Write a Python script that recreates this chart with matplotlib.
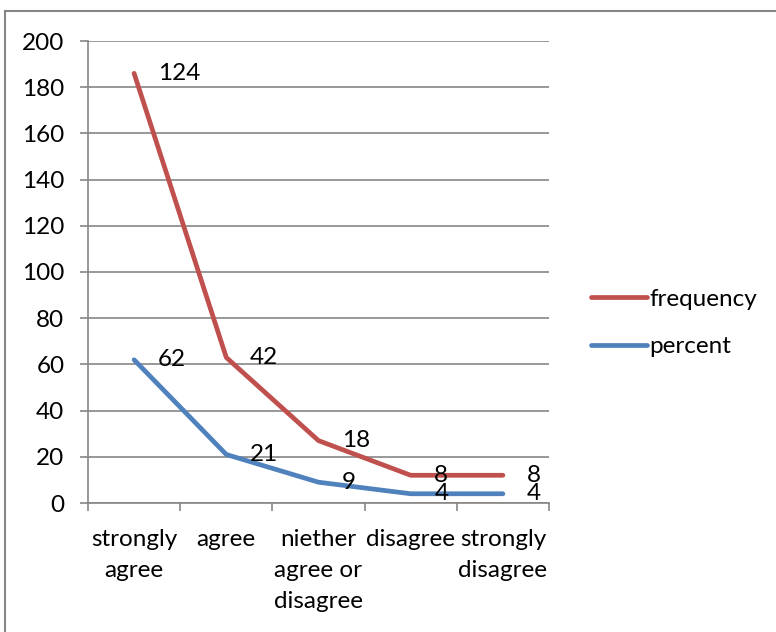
import matplotlib.pyplot as plt
from matplotlib.lines import Line2D

plt.rcParams['font.family'] = ['Lato', 'DejaVu Sans']

categories = ["strongly\nagree", "agree", "niether\nagree or\ndisagree", "disagree", "strongly\ndisagree"]
frequency = [124, 42, 18, 8, 8]
percent = [62, 21, 9, 4, 4]

red = "#C0504D"
blue = "#4F81BD"
grey = "#868686"
fs = 17.5

fig = plt.figure(figsize=(7.76, 6.32), dpi=100)
ax = fig.add_axes([88 / 776, 1 - 503 / 632, 461 / 776, 462 / 632])

x = list(range(len(categories)))
# stacked lines: frequency sits on top of percent
stacked = [f + p for f, p in zip(frequency, percent)]
ax.plot(x, percent, color=blue, lw=3.4, solid_capstyle='round', label="percent", zorder=3)
ax.plot(x, stacked, color=red, lw=3.4, solid_capstyle='round', label="frequency", zorder=3)

for xi, v, top in zip(x, percent, percent):
    ax.annotate(str(v), (xi, top), xytext=(17, 0), textcoords='offset points',
                ha='left', va='center', fontsize=fs)
for xi, v, top in zip(x, frequency, stacked):
    ax.annotate(str(v), (xi, top), xytext=(17, 0), textcoords='offset points',
                ha='left', va='center', fontsize=fs)

ax.set_xlim(-0.5, len(categories) - 0.5)
ax.set_ylim(0, 200)
ax.set_yticks(range(0, 201, 20))
ax.set_xticks(x)
ax.set_xticklabels(categories, fontsize=fs, linespacing=1.57)
ax.set_xticks([i - 0.5 for i in range(len(categories) + 1)], minor=True)
ax.tick_params(axis='x', which='major', length=0, pad=19)
ax.tick_params(axis='x', which='minor', length=6, width=1.2, color=grey)
ax.tick_params(axis='y', length=6, width=1.2, color=grey, pad=11, labelsize=fs)

ax.grid(axis='y', color=grey, lw=1.2)
ax.set_axisbelow(True)
for s in ['top', 'right']:
    ax.spines[s].set_visible(False)
for s in ['left', 'bottom']:
    ax.spines[s].set_color(grey)
    ax.spines[s].set_linewidth(1.2)

handles = [Line2D([], [], color=red, lw=3.4, solid_capstyle='round'),
           Line2D([], [], color=blue, lw=3.4, solid_capstyle='round')]
fig.legend(handles, ["frequency", "percent"], loc='center left',
           bbox_to_anchor=(569 / 776, 1 - 323 / 632), frameon=False, fontsize=fs,
           handlelength=2.3, handletextpad=0.1, labelspacing=1.1)

# chart border (left and top edges)
fig.add_artist(Line2D([5 / 776, 5 / 776], [0, 1 - 11 / 632], color=grey, lw=1.5))
fig.add_artist(Line2D([5 / 776, 1], [1 - 11 / 632, 1 - 11 / 632], color=grey, lw=1.5))

fig.savefig("out.png", dpi=100)
